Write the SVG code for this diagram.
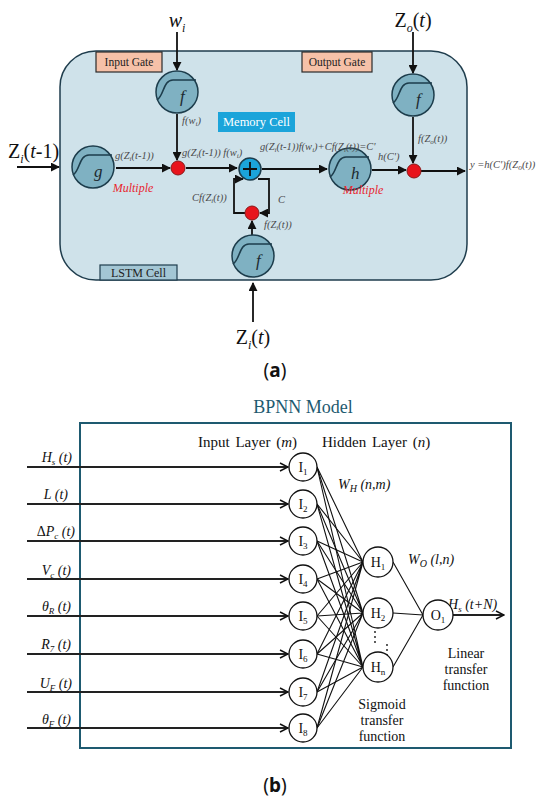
<svg xmlns="http://www.w3.org/2000/svg" width="550" height="803" viewBox="0 0 550 803">
<style>
.ser{font-family:"Liberation Serif","Times New Roman",serif}
.lbl{font-family:"Liberation Serif",serif;font-size:10.5px;fill:#4a4a4a;font-style:italic}
.big{font-family:"Liberation Serif",serif;font-size:20px;fill:#111}
.gate{fill:#7fb1c2;stroke:#1d3d4c;stroke-width:1.5}
.sig{fill:none;stroke:#1d3d4c;stroke-width:1.6}
.gl{font-family:"Liberation Serif",serif;font-size:17px;font-style:italic;fill:#1d2a30}
.red{fill:#e8141c;stroke:#8a1a1a;stroke-width:1}
.ln{stroke:#111;stroke-width:1.8;fill:none}
.nn{fill:#fff;stroke:#111;stroke-width:1.3}
.w{stroke:#111;stroke-width:1.1;fill:none}
.inl{stroke:#222;stroke-width:2;fill:none}
.nt{font-family:"Liberation Serif",serif;font-size:14px;fill:#111}
.it{font-style:italic}
.mult{font-family:"Liberation Serif",serif;font-size:12px;font-style:italic;fill:#e8262e}
</style>
<defs>
<marker id="ah" viewBox="0 0 10 10" refX="9" refY="5" markerWidth="9" markerHeight="9" markerUnits="userSpaceOnUse" orient="auto"><path d="M0,0 L10,5 L0,10 z" fill="#111"/></marker>
<marker id="ch" viewBox="0 0 10 10" refX="9" refY="5" markerWidth="10" markerHeight="10" markerUnits="userSpaceOnUse" orient="auto"><path d="M1,1 L9,5 L1,9" fill="none" stroke="#111" stroke-width="1.5"/></marker>
<g id="sigmoid"><circle r="21" class="gate"/><path class="sig" d="M-20,8 C-13,4 -14,-12 -4,-12 L19,-12"/></g>
</defs>

<!-- (a) LSTM -->
<g id="lstm-cell">
<rect x="60" y="51" width="407" height="229" rx="36" fill="#cfe2ea" stroke="#1f3d4d" stroke-width="1.5"/>
</g>
<g id="input-gate-label"><rect x="96" y="52" width="66" height="20" fill="#f6c1a8" stroke="#2a2a2a" stroke-width="1.2"/><text class="ser" x="129" y="66" font-size="11.5" text-anchor="middle" fill="#222">Input Gate</text></g>
<g id="output-gate-label"><rect x="302" y="52" width="70" height="20" fill="#f6c1a8" stroke="#2a2a2a" stroke-width="1.2"/><text class="ser" x="337" y="66" font-size="11.5" text-anchor="middle" fill="#222">Output Gate</text></g>
<g id="memory-cell-label"><rect x="218" y="112" width="77" height="20" fill="#1ba4da"/><text class="ser" x="256.5" y="126" font-size="12.5" text-anchor="middle" fill="#fff">Memory Cell</text></g>
<g id="lstm-cell-label"><rect x="100" y="265" width="77" height="15" fill="#a3c6d4" stroke="#1f3d4d" stroke-width="1.2"/><text class="ser" x="138.5" y="277" font-size="12" text-anchor="middle" fill="#222">LSTM Cell</text></g>

<g id="connectors">
<line class="ln" x1="177" y1="32" x2="177" y2="70" marker-end="url(#ah)"/>
<line class="ln" x1="413" y1="32" x2="413" y2="73" marker-end="url(#ah)"/>
<line class="ln" x1="17" y1="167" x2="59" y2="167" marker-end="url(#ah)"/>
<line class="ln" x1="116" y1="168" x2="170" y2="168" marker-end="url(#ah)"/>
<line class="ln" x1="177" y1="114" x2="177" y2="160" marker-end="url(#ah)"/>
<line class="ln" x1="186" y1="168" x2="237" y2="168" marker-end="url(#ah)"/>
<line class="ln" x1="262" y1="169" x2="327" y2="169" marker-end="url(#ah)"/>
<line class="ln" x1="372" y1="170" x2="406" y2="170" marker-end="url(#ah)"/>
<line class="ln" x1="413" y1="117" x2="413" y2="163" marker-end="url(#ah)"/>
<line class="ln" x1="421" y1="171" x2="465" y2="171" marker-end="url(#ah)"/>
<line class="ln" x1="252" y1="235" x2="252" y2="221" marker-end="url(#ah)"/>
<polyline class="ln" points="245,213 234,213 234,179 243,179" marker-end="url(#ah)"/>
<polyline class="ln" points="258,179 269,179 269,213 260,213" marker-end="url(#ah)"/>
<line class="ln" x1="253" y1="322" x2="253" y2="283" marker-end="url(#ah)"/>
</g>

<g id="gate-input-f"><use href="#sigmoid" x="177" y="92"/><text class="gl" x="180" y="102">f</text></g>
<g id="gate-output-f"><use href="#sigmoid" x="413" y="95"/><text class="gl" x="416" y="105">f</text></g>
<g id="gate-g"><use href="#sigmoid" x="93" y="167"/><text class="gl" x="94" y="177">g</text></g>
<g id="gate-bottom-f"><use href="#sigmoid" x="253" y="256"/><text class="gl" x="256" y="266">f</text></g>
<g id="gate-h"><use href="#sigmoid" x="350" y="169"/><text class="gl" x="351" y="179">h</text></g>
<g id="mult-1"><circle cx="178" cy="168" r="7" class="red"/></g>
<g id="mult-2"><circle cx="252" cy="213" r="7" class="red"/></g>
<g id="mult-3"><circle cx="414" cy="171" r="7" class="red"/></g>
<g id="sum"><circle cx="250" cy="169" r="11" fill="#1ba4da" stroke="#1d3d4c" stroke-width="1.5"/><path d="M243,169 H257 M250,162 V176" stroke="#111" stroke-width="1.8"/></g>

<g id="lstm-texts">
<text class="big" x="177" y="27" text-anchor="middle"><tspan font-style="italic">w</tspan><tspan font-size="12" font-style="italic" dy="5">i</tspan></text>
<text class="big" x="413" y="27" text-anchor="middle">Z<tspan font-size="12" font-style="italic" dy="5">o</tspan><tspan dy="-5">(</tspan><tspan font-style="italic">t</tspan>)</text>
<text class="big" x="8" y="158">Z<tspan font-size="12" font-style="italic" dy="5">i</tspan><tspan dy="-5">(</tspan><tspan font-style="italic">t</tspan>-1)</text>
<text class="big" x="253" y="344" text-anchor="middle">Z<tspan font-size="12" font-style="italic" dy="5">i</tspan><tspan dy="-5">(</tspan><tspan font-style="italic">t</tspan>)</text>
<text class="lbl" x="182" y="124">f(w<tspan font-size="7" dy="2">i</tspan><tspan dy="-2">)</tspan></text>
<text class="lbl" x="115" y="159">g(Z<tspan font-size="7" dy="2">i</tspan><tspan dy="-2">(</tspan>t-1))</text>
<text class="lbl" x="182" y="156">g(Z<tspan font-size="7" dy="2">i</tspan><tspan dy="-2">(</tspan>t-1)) f(w<tspan font-size="7" dy="2">i</tspan><tspan dy="-2">)</tspan></text>
<text class="lbl" x="260" y="150">g(Z<tspan font-size="7" dy="2">i</tspan><tspan dy="-2">(</tspan>t-1))f(w<tspan font-size="7" dy="2">i</tspan><tspan dy="-2">)+Cf(Z</tspan><tspan font-size="7" dy="2">i</tspan><tspan dy="-2">(t))=C'</tspan></text>
<text class="lbl" x="192" y="201">Cf(Z<tspan font-size="7" dy="2">i</tspan><tspan dy="-2">(t))</tspan></text>
<text class="lbl" x="278" y="203">C</text>
<text class="lbl" x="264" y="228">f(Z<tspan font-size="7" dy="2">i</tspan><tspan dy="-2">(t))</tspan></text>
<text class="lbl" x="418" y="142">f(Z<tspan font-size="7" dy="2">o</tspan><tspan dy="-2">(t))</tspan></text>
<text class="lbl" x="378" y="160">h(C')</text>
<text class="lbl" x="470" y="168" font-size="11.5">y =h(C')f(Z<tspan font-size="7.5" dy="2">o</tspan><tspan dy="-2">(t))</tspan></text>
<text class="mult" x="133" y="192" text-anchor="middle">Multiple</text>
<text class="mult" x="363" y="194" text-anchor="middle">Multiple</text>
<text x="275" y="377" text-anchor="middle" font-family="Noto Sans,sans-serif" font-size="19" fill="#111">(<tspan font-weight="bold">a</tspan>)</text>
</g>

<!-- (b) BPNN -->
<g id="bpnn-box">
<rect x="80" y="423" width="431" height="325" fill="none" stroke="#1e5a70" stroke-width="2"/>
<text class="ser" x="303" y="413" font-size="18" text-anchor="middle" fill="#1e5a70">BPNN Model</text>
</g>
<g id="bpnn-texts" class="nt">
<text x="198" y="447" font-size="15" word-spacing="2">Input Layer  (<tspan class="it">m</tspan>)</text>
<text x="322" y="447" font-size="15" word-spacing="2">Hidden Layer  (<tspan class="it">n</tspan>)</text>
<text x="338" y="489" class="it">W<tspan font-size="10" dy="3">H</tspan><tspan dy="-3"> (n,m)</tspan></text>
<text x="408" y="564" class="it">W<tspan font-size="10" dy="3">O</tspan><tspan dy="-3"> (l,n)</tspan></text>
<text x="448" y="609" class="it">H<tspan font-size="9" dy="3">s</tspan><tspan dy="-3"> (t+N)</tspan></text>
<text x="466" y="658" text-anchor="middle">Linear</text>
<text x="466" y="674" text-anchor="middle">transfer</text>
<text x="466" y="690" text-anchor="middle">function</text>
<text x="382" y="709" text-anchor="middle">Sigmoid</text>
<text x="382" y="725" text-anchor="middle">transfer</text>
<text x="382" y="741" text-anchor="middle">function</text>
<text x="72" y="462" text-anchor="end" class="it">H<tspan font-size="9" dy="3">s</tspan><tspan dy="-3"> (t)</tspan></text>
<text x="68" y="499" text-anchor="end" class="it">L (t)</text>
<text x="75" y="536" text-anchor="end"><tspan>Δ</tspan><tspan class="it">P<tspan font-size="9" dy="3">c</tspan><tspan dy="-3"> (t)</tspan></tspan></text>
<text x="71" y="575" text-anchor="end" class="it">V<tspan font-size="9" dy="3">c</tspan><tspan dy="-3"> (t)</tspan></text>
<text x="71" y="611" text-anchor="end" class="it">θ<tspan font-size="9" dy="3">R</tspan><tspan dy="-3"> (t)</tspan></text>
<text x="71" y="649" text-anchor="end" class="it">R<tspan font-size="9" dy="3">7</tspan><tspan dy="-3"> (t)</tspan></text>
<text x="72" y="688" text-anchor="end" class="it">U<tspan font-size="9" dy="3">F</tspan><tspan dy="-3"> (t)</tspan></text>
<text x="71" y="724" text-anchor="end" class="it">θ<tspan font-size="9" dy="3">F</tspan><tspan dy="-3"> (t)</tspan></text>
<text x="275" y="792" text-anchor="middle" font-family="Noto Sans,sans-serif" font-size="19" fill="#111">(<tspan font-weight="bold">b</tspan>)</text>
</g>

<g id="bpnn-connectors">
<line class="inl" x1="27" y1="467" x2="288" y2="467" marker-end="url(#ch)"/>
<line class="inl" x1="27" y1="504" x2="288" y2="504" marker-end="url(#ch)"/>
<line class="inl" x1="27" y1="541" x2="288" y2="541" marker-end="url(#ch)"/>
<line class="inl" x1="27" y1="579" x2="288" y2="579" marker-end="url(#ch)"/>
<line class="inl" x1="27" y1="616" x2="288" y2="616" marker-end="url(#ch)"/>
<line class="inl" x1="27" y1="654" x2="288" y2="654" marker-end="url(#ch)"/>
<line class="inl" x1="27" y1="692" x2="288" y2="692" marker-end="url(#ch)"/>
<line class="inl" x1="27" y1="728" x2="288" y2="728" marker-end="url(#ch)"/>
<path class="w" d="M317,467 L363,562 M317,504 L363,562 M317,541 L363,562 M317,579 L363,562 M317,616 L363,562 M317,654 L363,562 M317,692 L363,562 M317,728 L363,562"/>
<path class="w" d="M317,467 L363,613 M317,504 L363,613 M317,541 L363,613 M317,579 L363,613 M317,616 L363,613 M317,654 L363,613 M317,692 L363,613 M317,728 L363,613"/>
<path class="w" d="M317,467 L363,667 M317,504 L363,667 M317,541 L363,667 M317,579 L363,667 M317,616 L363,667 M317,654 L363,667 M317,692 L363,667 M317,728 L363,667"/>
<path class="w" d="M393,562 L423,615 M393,613 L423,615 M393,667 L423,615"/>
<line class="inl" x1="453" y1="615" x2="504" y2="615" stroke-width="1.5" marker-end="url(#ch)"/>
<g fill="#111"><circle cx="375" cy="632" r="0.9"/><circle cx="375" cy="637" r="0.9"/><circle cx="375" cy="642" r="0.9"/><circle cx="387" cy="645" r="0.9"/><circle cx="387" cy="650" r="0.9"/><circle cx="387" cy="655" r="0.9"/></g>
</g>

<g id="I1"><circle cx="303" cy="467" r="14" class="nn"/><text class="nt" x="303" y="472" text-anchor="middle">I<tspan font-size="9" dy="3">1</tspan></text></g>
<g id="I2"><circle cx="303" cy="504" r="14" class="nn"/><text class="nt" x="303" y="509" text-anchor="middle">I<tspan font-size="9" dy="3">2</tspan></text></g>
<g id="I3"><circle cx="303" cy="541" r="14" class="nn"/><text class="nt" x="303" y="546" text-anchor="middle">I<tspan font-size="9" dy="3">3</tspan></text></g>
<g id="I4"><circle cx="303" cy="579" r="14" class="nn"/><text class="nt" x="303" y="584" text-anchor="middle">I<tspan font-size="9" dy="3">4</tspan></text></g>
<g id="I5"><circle cx="303" cy="616" r="14" class="nn"/><text class="nt" x="303" y="621" text-anchor="middle">I<tspan font-size="9" dy="3">5</tspan></text></g>
<g id="I6"><circle cx="303" cy="654" r="14" class="nn"/><text class="nt" x="303" y="659" text-anchor="middle">I<tspan font-size="9" dy="3">6</tspan></text></g>
<g id="I7"><circle cx="303" cy="692" r="14" class="nn"/><text class="nt" x="303" y="697" text-anchor="middle">I<tspan font-size="9" dy="3">7</tspan></text></g>
<g id="I8"><circle cx="303" cy="728" r="14" class="nn"/><text class="nt" x="303" y="733" text-anchor="middle">I<tspan font-size="9" dy="3">8</tspan></text></g>
<g id="H1"><circle cx="378" cy="562" r="15" class="nn"/><text class="nt" x="378" y="567" text-anchor="middle">H<tspan font-size="9" dy="3">1</tspan></text></g>
<g id="H2"><circle cx="378" cy="613" r="15" class="nn"/><text class="nt" x="378" y="618" text-anchor="middle">H<tspan font-size="9" dy="3">2</tspan></text></g>
<g id="Hn"><circle cx="378" cy="667" r="15" class="nn"/><text class="nt" x="378" y="672" text-anchor="middle">H<tspan font-size="9" dy="3">n</tspan></text></g>
<g id="O1"><circle cx="438" cy="615" r="15" class="nn"/><text class="nt" x="438" y="620" text-anchor="middle">O<tspan font-size="9" dy="3">1</tspan></text></g>
</svg>
